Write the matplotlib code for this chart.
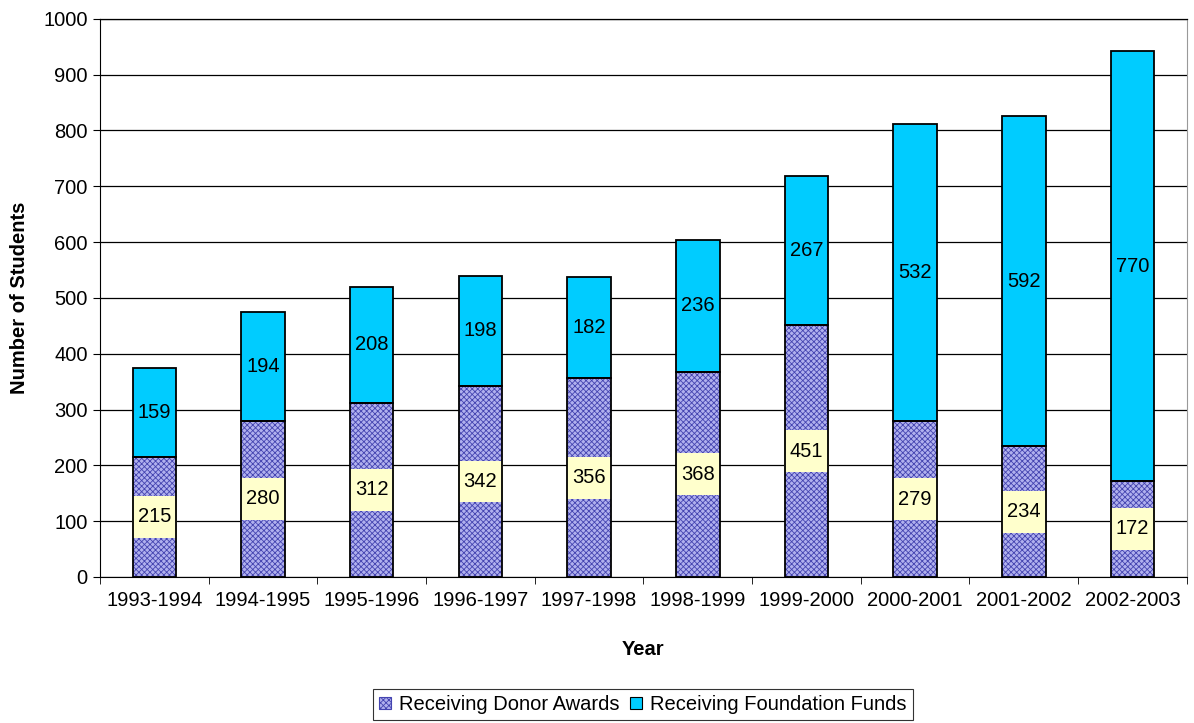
import matplotlib
matplotlib.use("Agg")
import matplotlib.pyplot as plt
from matplotlib.patches import Patch
import numpy as np

years = ["1993-1994", "1994-1995", "1995-1996", "1996-1997", "1997-1998",
         "1998-1999", "1999-2000", "2000-2001", "2001-2002", "2002-2003"]
donor = [215, 280, 312, 342, 356, 368, 451, 279, 234, 172]
foundation = [159, 194, 208, 198, 182, 236, 267, 532, 592, 770]

plt.rcParams["font.family"] = ["Liberation Sans", "DejaVu Sans"]
plt.rcParams["hatch.linewidth"] = 0.6

fig = plt.figure(figsize=(11.94, 7.23), dpi=100)
ax = fig.add_axes([0.0838, 0.202, 0.9102, 0.772])

x = np.arange(len(years))
w = 0.4
hatch_face = "#b0b0ee"
hatch_col = "#4444b0"
cyan = "#00ccff"
box_h = 75  # height of the yellow label patch, in data units

# hatched donor segment (hatch drawn in edge colour, outline drawn separately)
ax.bar(x, donor, w, color=hatch_face, edgecolor=hatch_col, hatch="xxxxxx",
       linewidth=0, zorder=3)
# light yellow label patches behind donor values
ax.bar(x, box_h, w * 1.02, bottom=np.array(donor) / 2 - box_h / 2,
       color="#ffffcc", linewidth=0, zorder=3.5)
ax.bar(x, donor, w, color="none", edgecolor="black", linewidth=1.3, zorder=4)
ax.bar(x, foundation, w, bottom=donor, color=cyan, edgecolor="black",
       linewidth=1.3, zorder=3)

for xi, d, f in zip(x, donor, foundation):
    ax.text(xi, d / 2, str(d), ha="center", va="center", fontsize=14.5, zorder=5)
    ax.text(xi, d + f / 2, str(f), ha="center", va="center", fontsize=14.5, zorder=5)

ax.set_xlim(-0.5, len(years) - 0.5)
ax.set_ylim(0, 1000)
ax.set_yticks(range(0, 1001, 100))
ax.set_xticks(x)
ax.set_xticklabels(years)
ax.set_xticks(np.arange(-0.5, len(years), 1), minor=True)
ax.tick_params(axis="x", which="major", length=0, pad=10, labelsize=14.5)
ax.tick_params(axis="x", which="minor", length=5, direction="out")
ax.tick_params(axis="y", length=5, direction="out", labelsize=14.5, pad=4)
ax.yaxis.grid(True, color="black", linewidth=0.9, zorder=0)
ax.set_axisbelow(True)

for s in ("left", "bottom", "top"):
    ax.spines[s].set_color("black")
ax.spines["top"].set_linewidth(0.9)
ax.spines["right"].set_color("#999999")

ax.set_xlabel("Year", fontsize=14.5, fontweight="bold", labelpad=22)
ax.set_ylabel("Number of Students", fontsize=14.5, fontweight="bold", labelpad=10)

handles = [Patch(facecolor=hatch_face, edgecolor=hatch_col, hatch="xxxxxx",
                 linewidth=0.8),
           Patch(facecolor=cyan, edgecolor="black", linewidth=0.8)]
leg = fig.legend(handles, ["Receiving Donor Awards", "Receiving Foundation Funds"],
                 loc="lower center", bbox_to_anchor=(0.5385, 0.004), ncol=2,
                 frameon=True, fancybox=False, edgecolor="black", fontsize=14.5,
                 handlelength=0.6, handleheight=0.6, handletextpad=0.4,
                 columnspacing=0.5, borderpad=0.3, borderaxespad=0)
leg.get_frame().set_linewidth(0.8)

fig.savefig("out.png", dpi=100)
